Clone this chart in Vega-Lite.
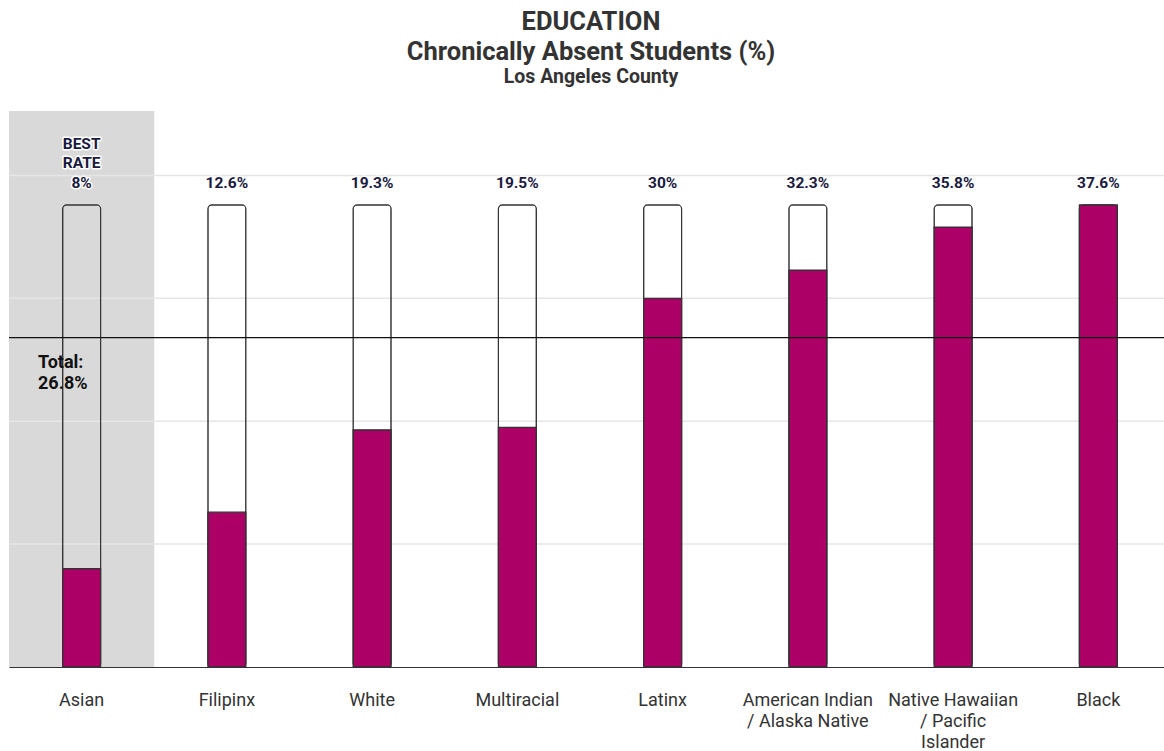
{
  "$schema": "https://vega.github.io/schema/vega-lite/v6.json",
  "width": 1162,
  "height": 556,
  "autosize": {"type": "none"},
  "padding": {"left": 9, "top": 111, "right": 0, "bottom": 84},
  "background": "white",
  "config": {"view": {"stroke": null}, "font": "Roboto"},
  "title": {
    "text": ["EDUCATION", "Chronically Absent Students (%)"],
    "subtitle": "Los Angeles County",
    "font": "Roboto",
    "fontSize": 25.5,
    "fontWeight": "bold",
    "color": "#333333",
    "lineHeight": 30,
    "subtitleFont": "Roboto",
    "subtitleFontSize": 19.5,
    "subtitleFontWeight": "bold",
    "subtitleColor": "#333333",
    "subtitlePadding": 2,
    "anchor": "middle",
    "dx": 1,
    "offset": 25
  },
  "datasets": {
    "groups": [
      {"race": "Asian", "value": 8, "label": "8%", "best": true},
      {"race": "Filipinx", "value": 12.6, "label": "12.6%", "best": false},
      {"race": "White", "value": 19.3, "label": "19.3%", "best": false},
      {"race": "Multiracial", "value": 19.5, "label": "19.5%", "best": false},
      {"race": "Latinx", "value": 30, "label": "30%", "best": false},
      {"race": "American Indian / Alaska Native", "value": 32.3, "label": "32.3%", "best": false},
      {"race": "Native Hawaiian / Pacific Islander", "value": 35.8, "label": "35.8%", "best": false},
      {"race": "Black", "value": 37.6, "label": "37.6%", "best": false}
    ],
    "grid": [{"g": 10}, {"g": 20}, {"g": 30}, {"g": 40}],
    "total": [{"total": 26.8, "text": "Total:\n26.8%"}]
  },
  "data": {"name": "groups"},
  "transform": [{"joinaggregate": [{"op": "max", "field": "value", "as": "max"}]}],
  "encoding": {
    "x": {
      "field": "race",
      "type": "nominal",
      "sort": null,
      "scale": {"paddingInner": 0, "paddingOuter": 0},
      "axis": {
        "title": null,
        "labelAngle": 0,
        "labelFont": "Roboto",
        "labelFontSize": 18,
        "labelColor": "#333333",
        "labelPadding": 24,
        "labelLineHeight": 21,
        "labelBaseline": "top",
        "ticks": false,
        "domainColor": "#333333",
        "domainWidth": 1.2,
        "labelExpr": "datum.value == 'American Indian / Alaska Native' ? ['American Indian', '/ Alaska Native'] : datum.value == 'Native Hawaiian / Pacific Islander' ? ['Native Hawaiian', '/ Pacific', 'Islander'] : datum.value"
      }
    }
  },
  "layer": [
    {
      "transform": [{"filter": "datum.best"}],
      "mark": {"type": "bar", "fill": "#d9d9d9", "width": {"band": 1}},
      "encoding": {
        "y": {"datum": 45.24, "type": "quantitative", "scale": {"domain": [0, 45.24], "nice": false}, "axis": null}
      }
    },
    {
      "data": {"name": "grid"},
      "mark": {"type": "rule", "color": "#e6e6e6", "strokeWidth": 1.5},
      "encoding": {
        "x": null,
        "y": {"field": "g", "type": "quantitative"}
      }
    },
    {
      "mark": {"type": "bar", "width": 38, "fill": "transparent", "stroke": "#333333", "strokeWidth": 1.2, "cornerRadius": 4},
      "encoding": {
        "y": {"field": "max", "type": "quantitative"}
      }
    },
    {
      "mark": {
        "type": "bar",
        "width": 38,
        "fill": "#ad0066",
        "stroke": "#333333",
        "strokeWidth": 1.2,
        "cornerRadiusTopLeft": {"expr": "datum.value >= datum.max ? 4 : 0"},
        "cornerRadiusTopRight": {"expr": "datum.value >= datum.max ? 4 : 0"}
      },
      "encoding": {
        "y": {"field": "value", "type": "quantitative"}
      }
    },
    {
      "mark": {
        "type": "text",
        "font": "Roboto",
        "fontSize": 15.5,
        "fontWeight": "bold",
        "baseline": "alphabetic",
        "dy": -17,
        "stroke": "white",
        "strokeWidth": 3,
        "strokeJoin": "round",
        "fill": "white"
      },
      "encoding": {
        "y": {"field": "max", "type": "quantitative"},
        "text": {"field": "label"}
      }
    },
    {
      "mark": {
        "type": "text",
        "font": "Roboto",
        "fontSize": 15.5,
        "fontWeight": "bold",
        "baseline": "alphabetic",
        "dy": -17,
        "fill": "#1a1a40"
      },
      "encoding": {
        "y": {"field": "max", "type": "quantitative"},
        "text": {"field": "label"}
      }
    },
    {
      "transform": [{"filter": "datum.best"}, {"calculate": "'BEST\\nRATE'", "as": "tag"}],
      "mark": {
        "type": "text",
        "font": "Roboto",
        "fontSize": 15.5,
        "fontWeight": "bold",
        "baseline": "alphabetic",
        "lineBreak": "\n",
        "lineHeight": 19.5,
        "dy": -56,
        "stroke": "white",
        "strokeWidth": 3,
        "strokeJoin": "round",
        "fill": "white"
      },
      "encoding": {
        "y": {"field": "max", "type": "quantitative"},
        "text": {"field": "tag"}
      }
    },
    {
      "transform": [{"filter": "datum.best"}, {"calculate": "'BEST\\nRATE'", "as": "tag"}],
      "mark": {
        "type": "text",
        "font": "Roboto",
        "fontSize": 15.5,
        "fontWeight": "bold",
        "baseline": "alphabetic",
        "lineBreak": "\n",
        "lineHeight": 19.5,
        "dy": -56,
        "fill": "#1a1a40"
      },
      "encoding": {
        "y": {"field": "max", "type": "quantitative"},
        "text": {"field": "tag"}
      }
    },
    {
      "data": {"name": "total"},
      "mark": {"type": "rule", "color": "#111111", "strokeWidth": 1.2},
      "encoding": {
        "x": null,
        "y": {"field": "total", "type": "quantitative"}
      }
    },
    {
      "data": {"name": "total"},
      "mark": {
        "type": "text",
        "font": "Roboto",
        "fontSize": 18,
        "fontWeight": "bold",
        "align": "left",
        "baseline": "alphabetic",
        "lineBreak": "\n",
        "lineHeight": 21,
        "dx": 29,
        "dy": 30,
        "fill": "#111111"
      },
      "encoding": {
        "x": {"datum": "Asian", "type": "nominal", "bandPosition": 0},
        "y": {"field": "total", "type": "quantitative"},
        "text": {"field": "text"}
      }
    }
  ]
}
